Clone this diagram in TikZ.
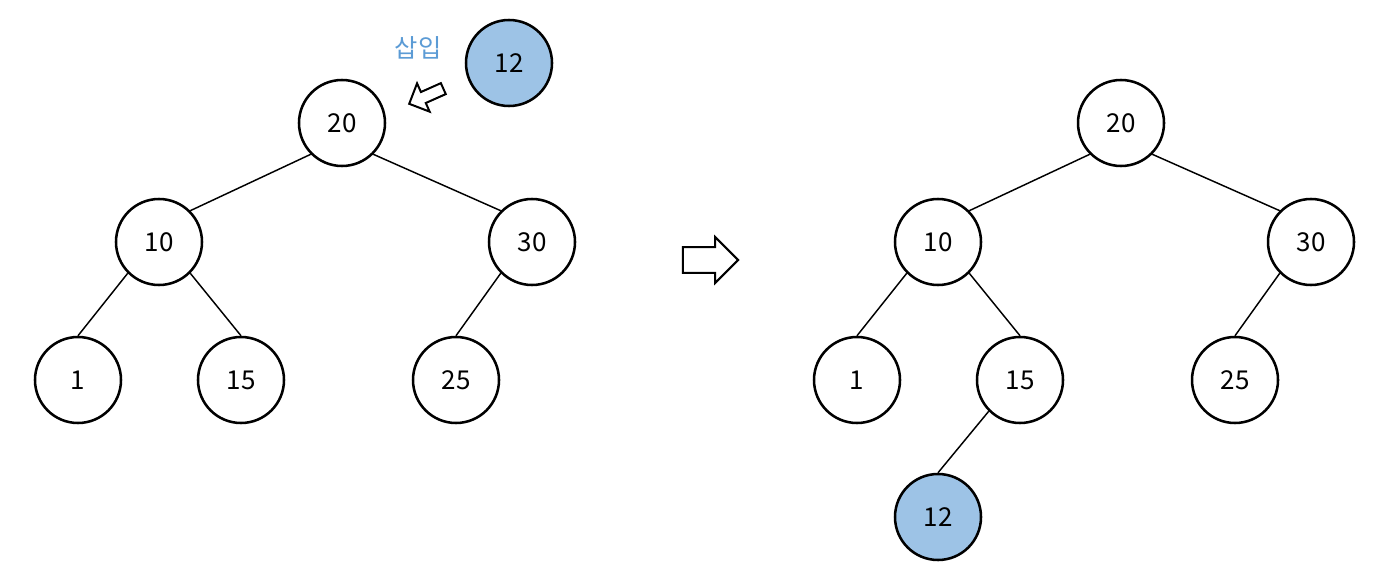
\documentclass[tikz,border=0pt]{standalone}
\usepackage{fontspec}
\setmainfont{Noto Sans CJK KR}
\usetikzlibrary{shapes.arrows}
\definecolor{keyfill}{RGB}{157,195,230}
\definecolor{labelblue}{RGB}{91,155,213}

\begin{document}
\begin{tikzpicture}[x=0.75pt, y=-0.75pt,
    key/.style={circle, draw, line width=1.9pt, minimum size=64.5pt,
        inner sep=0pt, font=\fontsize{19.5}{22}\selectfont},
    newkey/.style={key, fill=keyfill},
    edge/.style={line width=1.1pt},
    hollow/.style={single arrow, draw, line width=1.5pt, inner xsep=0pt,
        text height=0pt, text depth=0pt, text width=0pt}]
    \useasboundingbox (0,0) rectangle (1383,588);
    \node[key] (a20) at (342,123) {20};
    \node[key] (a10) at (159,242) {10};
    \node[key] (a30) at (532,242) {30};
    \node[key] (a1)  at (78,380)  {1};
    \node[key] (a15) at (241,380) {15};
    \node[key] (a25) at (456,380) {25};
    \node[newkey] (a12) at (509,63) {12};
    \node[text=labelblue, font=\fontsize{19}{22}\selectfont] (ins) at (418,48) {삽입};
    \node[hollow, rotate=204, inner ysep=3.75pt, minimum height=28pt,
        minimum width=16.5pt] (push) at (429,95) {};
    \draw[edge] (a20.225) -- (a10.45);
    \draw[edge] (a20.315) -- (a30.135);
    \draw[edge] (a10.225) -- (a1.north);
    \draw[edge] (a10.315) -- (a15.north);
    \draw[edge] (a30.225) -- (a25.north);
    \node[hollow, inner ysep=8.25pt, minimum height=41.5pt,
        minimum width=34.5pt] (step) at (704,260) {};
    \node[key] (b20) at (1121,123) {20};
    \node[key] (b10) at (938,242)  {10};
    \node[key] (b30) at (1311,242) {30};
    \node[key] (b1)  at (857,380)  {1};
    \node[key] (b15) at (1020,380) {15};
    \node[key] (b25) at (1235,380) {25};
    \node[newkey] (b12) at (938,517) {12};
    \draw[edge] (b20.225) -- (b10.45);
    \draw[edge] (b20.315) -- (b30.135);
    \draw[edge] (b10.225) -- (b1.north);
    \draw[edge] (b10.315) -- (b15.north);
    \draw[edge] (b30.225) -- (b25.north);
    \draw[edge] (b15.225) -- (b12.north);
\end{tikzpicture}
\end{document}
